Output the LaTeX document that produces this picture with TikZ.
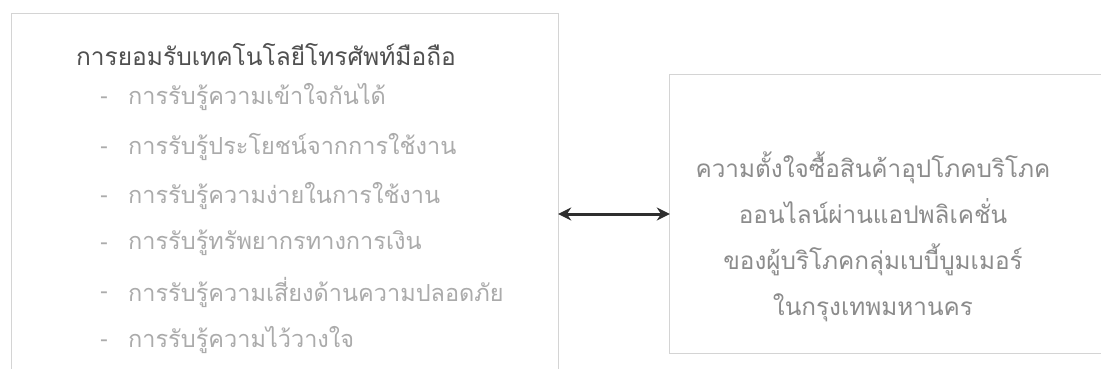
\documentclass[tikz,border=0pt]{standalone}
\usepackage{fontspec}
\newfontfamily\thaifont[Script=Thai]{Loma}
\usetikzlibrary{arrows.meta}
\definecolor{boxline}{HTML}{D4D4D4}
\definecolor{titlecol}{HTML}{505050}
\definecolor{itemcol}{HTML}{ABABAB}
\definecolor{rightcol}{HTML}{8C8C8C}
\definecolor{arrowcol}{HTML}{2E2E2E}
\tikzset{
  panel/.style={draw=none, inner sep=0pt},
  panelline/.style={draw=boxline, line width=1.2pt},
  titletext/.style={font=\thaifont\fontsize{24.5}{28}\selectfont, text=titlecol, inner sep=0pt},
  itemtext/.style={font=\thaifont\fontsize{23.5}{27}\selectfont, text=itemcol, anchor=west, inner sep=0pt},
  bullettext/.style={font=\thaifont\fontsize{22}{26}\selectfont, text=itemcol, inner sep=0pt},
  righttext/.style={font=\thaifont\fontsize{24.3}{46}\selectfont, text=rightcol, align=center, inner sep=0pt},
  link/.style={{Stealth[length=13pt,width=13pt]}-{Stealth[length=13pt,width=13pt]}, draw=arrowcol, line width=3pt}
}
\begin{document}
\begin{tikzpicture}[x=1pt,y=-1pt]
\useasboundingbox (0,0) rectangle (1101,368);
\fill[white] (0,0) rectangle (1101,368);
\node[panel, minimum width=546pt, minimum height=370pt] (left) at (285,199) {};
\node[panel, minimum width=450pt, minimum height=278pt] (right) at (895,214) {};
\draw[panelline] (left.south west) -- (left.north west) -- (left.north east) -- (left.south east);
\draw[panelline] (right.north east) -- (right.north west) -- (right.south west) -- (right.south east);
\node[titletext] (title) at (266,55) {การยอมรับเทคโนโลยีโทรศัพท์มือถือ};
\node[bullettext] (b1) at (104,100) {-};
\node[bullettext] (b2) at (104,150) {-};
\node[bullettext] (b3) at (104,199) {-};
\node[bullettext] (b4) at (104,246) {-};
\node[bullettext] (b5) at (104,295) {-};
\node[bullettext] (b6) at (104,343) {-};
\node[itemtext] (i1) at (128,97) {การรับรู้ความเข้าใจกันได้};
\node[itemtext] (i2) at (128,147) {การรับรู้ประโยชน์จากการใช้งาน};
\node[itemtext] (i3) at (128,196) {การรับรู้ความง่ายในการใช้งาน};
\node[itemtext] (i4) at (128,243) {การรับรู้ทรัพยากรทางการเงิน};
\node[itemtext] (i5) at (128,292) {การรับรู้ความเสี่ยงด้านความปลอดภัย};
\node[itemtext] (i6) at (128,340) {การรับรู้ความไว้วางใจ};
\node[righttext] (rt) at (873,237) {ความตั้งใจซื้อสินค้าอุปโภคบริโภค\\ออนไลน์ผ่านแอปพลิเคชั่น\\ของผู้บริโภคกลุ่มเบบี้บูมเมอร์\\ในกรุงเทพมหานคร};
\draw[link] (left.east |- right.west) -- (right.west);
\end{tikzpicture}
\end{document}
